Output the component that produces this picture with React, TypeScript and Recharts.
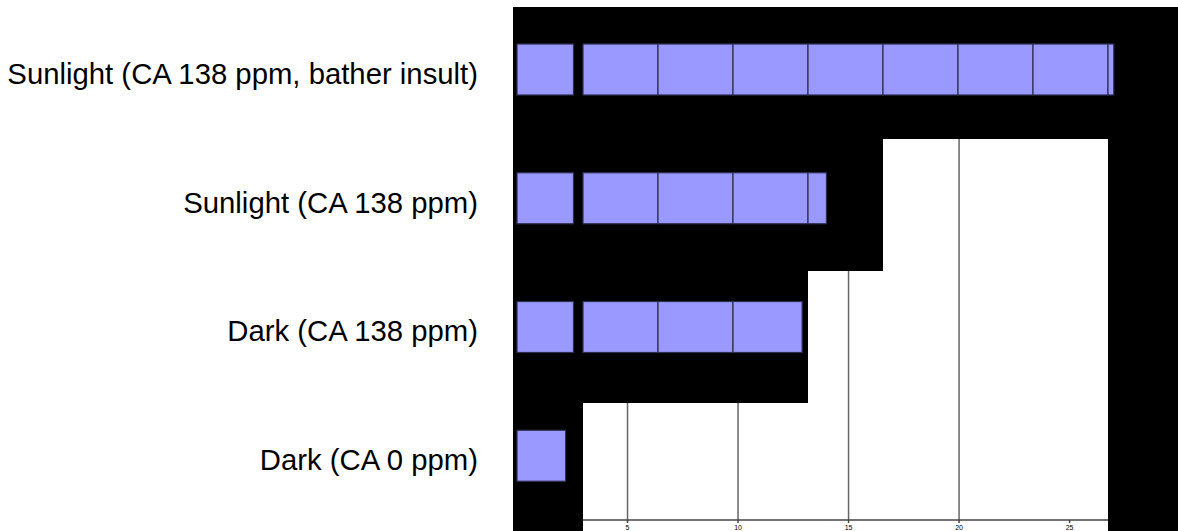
import React from "react";
import { BarChart, Bar, XAxis, YAxis, CartesianGrid } from "recharts";

const categories = [
  "Sunlight (CA 138 ppm, bather insult)",
  "Sunlight (CA 138 ppm)",
  "Dark (CA 138 ppm)",
  "Dark (CA 0 ppm)",
];
const values = [27.0, 14.0, 12.9, 2.2];
const xTicks = [0, 5, 10, 15, 20, 25];
const gridValues = [5, 10, 15, 20];

const data = categories.map((name, i) => ({ name, value: values[i] }));

// the original was rendered with broken black tiles, reproduce that grid
const LEFT = 513;
const FIRST_END = 573.5;
const TILE_X0 = 583;
const TILE_W = 75;
const TILE_Y0 = 7;
const TILE_H = 132;
const FONT = "'Liberation Sans', Arial, sans-serif";

function TiledBar(props: any) {
  const { x, y, width, height } = props;
  const end = x + width;
  const blockEnd =
    end > TILE_X0 ? TILE_X0 + Math.ceil((end - TILE_X0) / TILE_W) * TILE_W : TILE_X0;
  const row = Math.floor((y + height / 2 - TILE_Y0) / TILE_H);
  const top = TILE_Y0 + row * TILE_H;

  const segs: [number, number][] = [];
  if (Math.min(end, FIRST_END) > x) segs.push([x, Math.min(end, FIRST_END)]);
  for (let s = TILE_X0; s < end; s += TILE_W) {
    const a = Math.max(s, x);
    const b = Math.min(s + TILE_W, end);
    if (b > a) segs.push([a, b]);
  }

  return (
    <g>
      <rect x={LEFT} y={top} width={blockEnd - LEFT} height={TILE_H} fill="#000" />
      {segs.map(([a, b], i) => (
        <rect
          key={i}
          x={a}
          y={y}
          width={b - a}
          height={height}
          fill="#9999ff"
          stroke="#2e2e50"
          strokeWidth={1.2}
        />
      ))}
    </g>
  );
}

function CategoryTick(props: any) {
  const { x, y, payload } = props;
  return (
    <text
      x={x}
      y={y + 4}
      dy="0.355em"
      textAnchor="end"
      fontSize={29.3}
      fill="#000"
      fontFamily={FONT}
    >
      {payload.value}
    </text>
  );
}

export default function App() {
  const tileRight = TILE_X0 + TILE_W * 7;
  return (
    <div
      style={{
        position: "absolute",
        left: 0,
        top: 0,
        width: 1178,
        height: 531,
        overflow: "hidden",
        background: "#fff",
      }}
    >
      <div
        style={{ position: "absolute", left: LEFT, top: TILE_Y0, width: 1178 - LEFT, height: 531 - TILE_Y0, background: "#000" }}
      />
      <div
        style={{ position: "absolute", left: TILE_X0, top: TILE_Y0, width: TILE_W * 7, height: 531 - TILE_Y0, background: "#fff" }}
      />
      <div style={{ position: "absolute", left: 0, top: 0 }}>
        <BarChart
          width={1178}
          height={531}
          data={data}
          layout="vertical"
          margin={{ top: 5, right: 20, bottom: 0, left: 0 }}
        >
          <CartesianGrid
            horizontal={false}
            verticalValues={gridValues}
            stroke="#666"
            strokeWidth={1.5}
          />
          <XAxis
            type="number"
            domain={[0, 29]}
            ticks={xTicks}
            height={11}
            tickSize={3}
            tickMargin={2}
            stroke="#444"
            strokeWidth={1.5}
            tick={{ fontSize: 7, fill: "#000", fontFamily: FONT }}
          />
          <YAxis
            type="category"
            dataKey="name"
            width={517}
            interval={0}
            tickLine={false}
            axisLine={false}
            tickSize={0}
            tickMargin={39}
            tick={CategoryTick}
          />
          <Bar dataKey="value" barSize={51} shape={TiledBar} isAnimationActive={false} />
        </BarChart>
      </div>
      <div
        style={{ position: "absolute", left: 0, top: 0, width: 1178, height: TILE_Y0, background: "#fff" }}
      />
      <div
        style={{ position: "absolute", left: LEFT, top: 500, width: TILE_X0 - LEFT, height: 31, background: "#000" }}
      />
      <div
        style={{ position: "absolute", left: tileRight, top: 500, width: 1178 - tileRight, height: 31, background: "#000" }}
      />
    </div>
  );
}
